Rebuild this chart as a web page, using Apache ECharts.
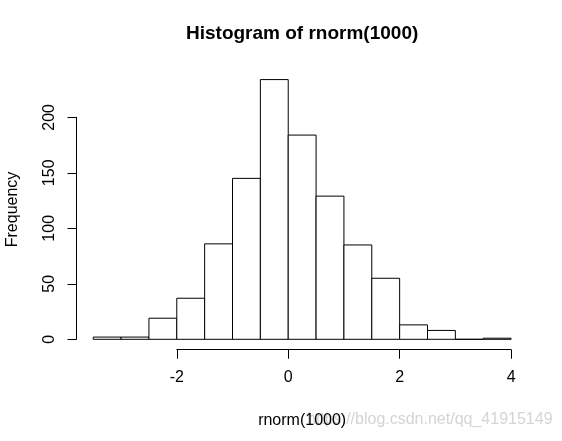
<!DOCTYPE html>
<html><head><meta charset="utf-8">
<script src="https://cdn.jsdelivr.net/npm/echarts@6/dist/echarts.min.js"></script>
<style>html,body{margin:0;padding:0;background:#fff}#c{width:562px;height:441px}</style>
</head><body><div id="c"></div>
<script>
// Histogram data
const breaks = [-3.5,-3,-2.5,-2,-1.5,-1,-0.5,0,0.5,1,1.5,2,2.5,3,3.5,4];
const counts = [2,2,19,37,86,145,234,184,129,85,55,13,8,0,1];
const xTickMin = -2, xTickMax = 4, xTickStep = 2;
const yTickMin = 0, yTickMax = 200, yTickStep = 50;
const titleText = 'Histogram of rnorm(1000)';
const xLabel = 'rnorm(1000)';
const yLabel = 'Frequency';
const watermark = 'https://blog.csdn.net/qq_41915149';

// Layout (R-style plot region)
const W = 562, H = 441;
const L = 76.5, R = 527.8, T = 69.2, B = 349.7;
const xmin = -3.8, xmax = 4.3, ymin = -9.36, ymax = 243.36;
const px = x => L + (x - xmin) / (xmax - xmin) * (R - L);
const py = y => T + (ymax - y) / (ymax - ymin) * (B - T);
const FONT = "'Liberation Sans', Arial, sans-serif";

const bins = counts.map((c, i) => [breaks[i], breaks[i + 1], c]);

const chart = echarts.init(document.getElementById('c'), null, {renderer: 'canvas'});
chart.setOption({
  backgroundColor: '#fff',
  animation: false,
  title: {
    text: titleText,
    left: (L + R) / 2 - 5, textAlign: 'center', top: 19,
    textStyle: {fontFamily: FONT, fontSize: 19, fontWeight: 'bold', color: '#000'}
  },
  grid: [
    {left: L, right: W - R, top: T, bottom: H - B, containLabel: false, outerBoundsMode: 'none'},
    {left: px(xTickMin), right: W - px(xTickMax), top: T, bottom: H - B, containLabel: false, outerBoundsMode: 'none'},
    {left: L, right: W - R, top: py(yTickMax), bottom: H - py(yTickMin), containLabel: false, outerBoundsMode: 'none'}
  ],
  xAxis: [
    {gridIndex: 0, type: 'value', min: xmin, max: xmax, show: true,
     axisLine: {show: false}, axisTick: {show: false}, axisLabel: {show: false}, splitLine: {show: false},
     name: xLabel, nameLocation: 'middle', nameGap: 63,
     nameTextStyle: {fontFamily: FONT, fontSize: 16, color: '#000'}},
    {gridIndex: 1, type: 'value', min: xTickMin, max: xTickMax, interval: xTickStep, position: 'bottom',
     axisLine: {show: true, onZero: false, lineStyle: {color: '#000', width: 1}},
     axisTick: {show: true, inside: false, length: 9, lineStyle: {color: '#000', width: 1}},
     axisLabel: {show: true, margin: 20, fontFamily: FONT, fontSize: 16, color: '#000'},
     splitLine: {show: false}},
    {gridIndex: 2, type: 'value', min: 0, max: 1, show: false}
  ],
  yAxis: [
    {gridIndex: 0, type: 'value', min: ymin, max: ymax, show: true,
     axisLine: {show: false}, axisTick: {show: false}, axisLabel: {show: false}, splitLine: {show: false},
     name: yLabel, nameLocation: 'middle', nameRotate: 90, nameGap: 56,
     nameTextStyle: {fontFamily: FONT, fontSize: 16, color: '#000'}},
    {gridIndex: 1, type: 'value', min: 0, max: 1, show: false},
    {gridIndex: 2, type: 'value', min: yTickMin, max: yTickMax, interval: yTickStep, position: 'left',
     axisLine: {show: true, onZero: false, lineStyle: {color: '#000', width: 1}},
     axisTick: {show: true, inside: false, length: 9, lineStyle: {color: '#000', width: 1}},
     axisLabel: {show: true, rotate: 90, margin: 19, fontFamily: FONT, fontSize: 16, color: '#000'},
     splitLine: {show: false}}
  ],
  series: [{
    type: 'custom',
    xAxisIndex: 0, yAxisIndex: 0,
    data: bins,
    encode: {x: [0, 1], y: 2},
    renderItem: function (params, api) {
      const p0 = api.coord([api.value(0), api.value(2)]);
      const p1 = api.coord([api.value(1), 0]);
      return {
        type: 'rect',
        shape: {x: p0[0], y: p0[1], width: p1[0] - p0[0], height: p1[1] - p0[1]},
        style: {fill: '#fff', stroke: '#000', lineWidth: 1}
      };
    }
  }],
  graphic: [{
    type: 'text', left: 307, top: 412, silent: true, z: 0,
    style: {text: watermark, fill: '#d4d4d4', font: "16px 'Liberation Sans', Arial, sans-serif"}
  }]
});
</script></body></html>
